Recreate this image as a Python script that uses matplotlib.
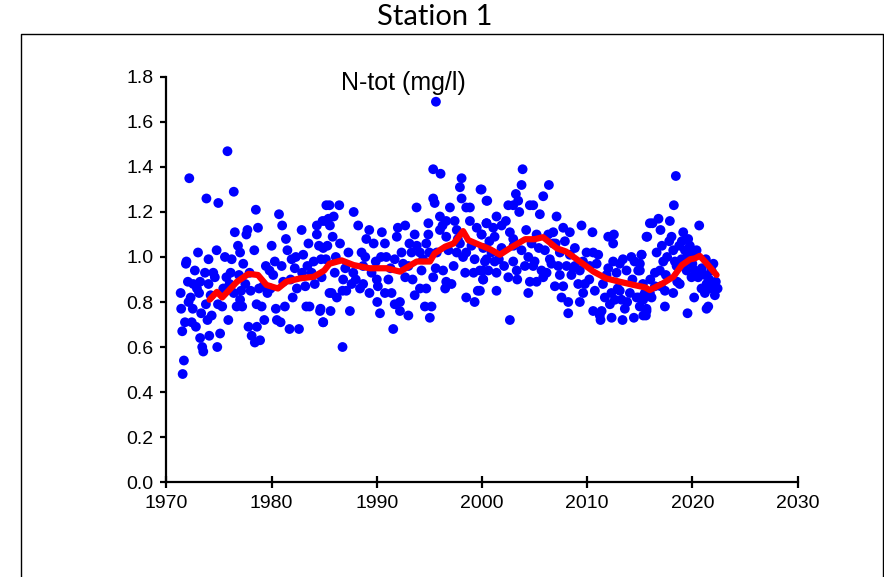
import numpy as np
import matplotlib
matplotlib.use("Agg")
import matplotlib.pyplot as plt
from matplotlib.lines import Line2D

# --- DATA ---
yr_1971_85 = [1971.54, 1971.66, 1971.35, 1971.40, 1971.50, 1971.76, 1971.85, 1971.90, 1972.17, 1972.04,
              1972.10, 1972.30, 1972.50, 1972.40, 1972.80, 1972.70, 1972.55, 1973.00, 1973.20, 1973.40,
              1973.50, 1973.10, 1973.20, 1973.66, 1973.80, 1974.00, 1973.75, 1974.00, 1974.07, 1974.30,
              1974.45, 1974.60, 1974.77, 1974.93, 1974.83, 1975.10, 1975.30, 1975.56, 1975.70, 1975.80,
              1975.88, 1976.00, 1976.20, 1976.40, 1976.50, 1976.40, 1976.67, 1976.80, 1977.00, 1977.10,
              1977.00, 1977.30, 1977.60, 1977.70, 1977.50, 1977.80, 1978.00, 1978.10, 1978.35, 1978.50,
              1978.40, 1978.60, 1978.70, 1978.57, 1978.90, 1979.05, 1979.20, 1979.45, 1979.60, 1979.80,
              1980.00, 1980.15, 1980.40, 1980.50, 1980.70, 1980.85, 1981.00, 1980.95, 1981.26, 1981.36,
              1981.50, 1981.70, 1981.90, 1982.00, 1982.20, 1982.40, 1982.60, 1982.85, 1983.00, 1983.20,
              1983.30, 1983.50, 1983.60, 1983.80, 1984.00, 1984.30, 1984.30, 1984.50, 1984.65, 1984.90,
              1985.10, 1985.20, 1985.40, 1985.50,
              1972.90, 1973.30, 1973.90, 1974.20, 1974.90, 1975.40, 1976.10, 1976.90, 1977.20, 1977.90,
              1978.80, 1979.30, 1979.90, 1980.30, 1981.10, 1981.80, 1982.30, 1982.90, 1983.40, 1984.10,
              1984.70, 1985.30]
n_1971_85 = [0.48, 0.54, 0.84, 0.77, 0.67, 0.71, 0.97, 0.98, 1.35, 0.89,
             0.80, 0.82, 0.77, 0.71, 0.69, 0.94, 0.88, 1.02, 0.64, 0.60,
             0.58, 0.84, 0.89, 0.93, 1.26, 0.99, 0.79, 0.88, 0.65, 0.74,
             0.93, 0.91, 1.03, 1.24, 0.60, 0.66, 0.78, 1.00, 0.91, 1.47,
             0.72, 0.88, 0.99, 1.29, 1.11, 0.84, 0.78, 1.05, 1.02, 0.85,
             0.81, 0.97, 1.10, 1.12, 0.88, 0.69, 0.85, 0.65, 1.03, 1.21,
             0.62, 0.69, 1.13, 0.79, 0.63, 0.78, 0.87, 0.96, 0.84, 0.94,
             1.05, 0.92, 0.77, 0.72, 1.19, 0.71, 1.14, 0.96, 0.78, 1.08,
             1.03, 0.68, 0.99, 0.82, 0.95, 0.86, 0.68, 1.12, 1.01, 0.87,
             0.78, 1.06, 0.78, 0.93, 0.98, 1.10, 1.14, 1.05, 0.77, 0.71,
             1.16, 1.23, 1.17, 0.84,
             0.86, 0.75, 0.72, 0.83, 0.79, 0.86, 0.93, 0.92, 0.78, 0.93,
             0.86, 0.72, 0.86, 0.98, 0.89, 0.90, 1.00, 0.93, 0.96, 0.88,
             0.99, 1.05]

yr_1985_2000 = [1995.62, 1995.36, 1996.06, 1998.06, 1997.90, 1999.86, 1995.36, 1995.50, 1998.06, 1998.85,
                1998.50, 2000.43, 1993.78, 1996.95, 1985.50, 1986.43, 1985.90, 1987.80, 1984.84, 1985.54,
                1988.23, 1989.28, 1990.48, 1992.00, 1992.70, 1993.60, 1994.90, 1994.90, 1996.00, 1996.25,
                1996.60, 1997.40, 1997.60, 1998.85, 1999.96, 2000.43, 1986.50, 1985.80, 1989.00, 1990.77,
                1991.90, 1993.10, 1993.80, 1994.70, 1996.00, 1996.60, 1984.90, 1987.30, 1988.55, 1989.70,
                1990.90, 1991.70, 1992.35, 1993.30, 1994.10, 1995.00, 1997.60, 1998.50, 1999.30, 2000.43,
                1985.16, 1986.00, 1986.80, 1987.76, 1988.70, 1989.50, 1990.00, 1991.10, 1992.70, 1994.25,
                1996.30, 1997.30, 1998.40, 1999.20, 2000.10, 1984.75, 1985.70, 1986.20, 1987.10, 1987.60,
                1988.40, 1989.30, 1990.10, 1990.77, 1991.40, 1993.60, 1994.10, 1994.70, 1996.50, 1996.60,
                1998.50, 1999.30, 1999.60, 2000.10, 1984.60, 1985.60, 1984.90, 1987.44, 1990.04, 1990.30,
                1991.70, 1992.20, 1993.00, 1992.20, 1994.57, 1995.20, 1995.04, 1991.56, 1986.74, 1986.74,
                1988.70, 1990.40, 1993.00, 1995.36, 1995.70, 1997.90,
                1986.10, 1987.00, 1988.00, 1988.90, 1989.90, 1991.30, 1992.50, 1993.40, 1994.40, 1995.60,
                1996.80, 1997.70, 1998.20, 1999.00, 1999.50, 1997.10]
n_1985_2000 = [1.69, 1.39, 1.37, 1.35, 1.31, 1.30, 1.26, 1.24, 1.26, 1.22,
               1.22, 1.25, 1.22, 1.22, 1.23, 1.23, 1.18, 1.20, 1.16, 1.14,
               1.14, 1.12, 1.11, 1.13, 1.14, 1.10, 1.15, 1.10, 1.18, 1.14,
               1.16, 1.16, 1.12, 1.16, 1.10, 1.15, 1.06, 1.09, 1.08, 1.06,
               1.09, 1.06, 1.05, 1.06, 1.12, 1.09, 1.04, 1.02, 1.02, 1.06,
               1.00, 0.99, 1.02, 1.02, 1.02, 1.02, 1.02, 1.02, 0.99, 0.99,
               0.99, 0.93, 0.90, 0.93, 0.96, 0.93, 0.90, 0.90, 0.91, 0.94,
               0.94, 0.96, 0.93, 0.93, 0.94, 0.91, 0.84, 0.82, 0.85, 0.88,
               0.86, 0.84, 0.87, 0.84, 0.84, 0.83, 0.86, 0.86, 0.86, 0.89,
               0.82, 0.80, 0.85, 0.90, 0.76, 0.76, 0.71, 0.76, 0.80, 0.75,
               0.79, 0.76, 0.74, 0.80, 0.78, 0.78, 0.73, 0.68, 0.60, 0.85,
               0.88, 1.00, 0.96, 0.91, 1.02, 1.06,
               1.00, 0.95, 0.90, 1.00, 0.98, 0.95, 0.97, 0.90, 0.99, 0.95,
               1.03, 1.08, 1.00, 1.05, 1.13, 0.88]

yr_2000_15 = [2003.86, 2003.76, 2006.36, 1999.96, 2003.22, 2005.82, 2000.50, 2002.50, 2003.44, 2002.97,
              2004.55, 2004.87, 2003.54, 2005.50, 2007.09, 2001.38, 2000.43, 2002.27, 2001.86, 2001.07,
              2002.65, 2009.46, 2010.50, 2012.00, 2012.54, 2012.47, 2015.64, 2015.96, 1999.96, 2001.20,
              2002.97, 2005.19, 2006.30, 2006.77, 2007.72, 2008.35, 2007.88, 2006.77, 2004.71, 2000.12,
              2000.90, 2001.86, 2003.76, 2005.98, 2007.40, 2008.35, 2008.83, 2009.94, 2010.57, 2011.05,
              2013.40, 2014.20, 2014.50, 2015.17, 2000.28, 2001.20, 2002.97, 2004.40, 2005.00, 2007.25,
              2008.04, 2008.83, 2010.90, 2012.47, 2013.10, 2014.85, 1999.80, 2000.60, 2002.10, 2003.30,
              2004.08, 2004.87, 2005.66, 2006.45, 2007.40, 2008.67, 2009.30, 2010.26, 2011.84, 2012.79,
              2013.74, 2000.12, 2001.38, 2002.50, 2003.35, 2004.55, 2005.19, 2005.82, 2006.14, 2006.93,
              2007.72, 2009.15, 2009.78, 2010.73, 2011.68, 2012.30, 2013.27, 2014.06, 2014.70, 2015.48,
              1999.80, 2001.38, 2004.40, 2007.56, 2008.20, 2009.30, 2009.62, 2010.57, 2011.37, 2012.16,
              2012.63, 2013.10, 2013.58, 2015.00, 2015.64, 2015.33, 2008.20, 2011.27, 2012.32, 2013.36,
              2014.44, 2002.65, 2011.20,
              2000.70, 2001.60, 2003.00, 2004.20, 2005.40, 2006.60, 2007.00, 2008.50, 2009.60, 2010.20,
              2011.50, 2012.00, 2012.90, 2013.80, 2014.30, 2014.90, 2015.30]
n_2000_15 = [1.39, 1.32, 1.32, 1.30, 1.28, 1.27, 1.25, 1.23, 1.25, 1.23,
             1.23, 1.23, 1.20, 1.19, 1.18, 1.18, 1.15, 1.16, 1.14, 1.13,
             1.11, 1.14, 1.11, 1.09, 1.10, 1.06, 1.09, 1.15, 1.10, 1.09,
             1.08, 1.10, 1.10, 1.11, 1.13, 1.11, 1.07, 1.06, 1.06, 1.04,
             1.02, 1.04, 1.03, 1.03, 1.02, 1.01, 1.04, 1.02, 1.02, 1.01,
             0.99, 1.00, 0.98, 1.01, 0.98, 0.98, 0.98, 1.00, 0.98, 0.96,
             0.96, 0.96, 0.97, 0.98, 0.97, 0.94, 0.94, 0.94, 0.96, 0.94,
             0.96, 0.96, 0.94, 0.99, 0.92, 0.95, 0.94, 0.96, 0.92, 0.93,
             0.94, 0.90, 0.93, 0.91, 0.90, 0.89, 0.89, 0.91, 0.93, 0.87,
             0.87, 0.88, 0.88, 0.85, 0.82, 0.84, 0.81, 0.84, 0.82, 0.84,
             0.85, 0.85, 0.84, 0.82, 0.80, 0.80, 0.84, 0.76, 0.76, 0.79,
             0.81, 0.85, 0.77, 0.78, 0.76, 0.74, 0.75, 0.72, 0.73, 0.72,
             0.73, 0.72, 0.74,
             1.07, 0.99, 1.05, 1.12, 1.04, 0.97, 1.06, 0.92, 0.98, 0.90,
             0.88, 0.95, 0.86, 0.80, 0.90, 0.82, 0.88]

yr_2015_22 = [2018.43, 2018.24, 2016.78, 2016.21, 2017.86, 2020.65, 2016.97, 2015.71, 2019.13, 2018.02,
              2017.80, 2019.60, 2018.18, 2018.75, 2019.29, 2019.76, 2015.17, 2019.92, 2017.23, 2018.34,
              2018.97, 2021.28, 2015.01, 2016.44, 2016.91, 2017.48, 2019.45, 2020.24, 2020.71, 2021.82,
              2015.01, 2018.56, 2019.92, 2020.55, 2021.35, 2022.23, 2020.87, 2021.66, 2015.96, 2016.44,
              2017.39, 2018.18, 2021.19, 2022.14, 2015.33, 2016.12, 2020.17, 2015.64, 2017.39, 2021.51,
              2015.58, 2019.54, 2021.35, 2021.98, 2019.13,
              2016.00, 2016.60, 2017.10, 2017.60, 2018.50, 2019.00, 2019.50, 2020.00, 2020.40, 2020.90,
              2021.20, 2021.60, 2022.00, 2022.40, 2017.00, 2018.80]
n_2015_22 = [1.36, 1.23, 1.17, 1.15, 1.16, 1.14, 1.12, 1.09, 1.11, 1.09,
             1.07, 1.08, 1.03, 1.05, 1.03, 1.05, 1.01, 1.02, 0.98, 0.98,
             0.99, 0.99, 0.97, 0.93, 0.94, 0.92, 0.94, 0.94, 0.93, 0.94,
             0.94, 0.89, 0.91, 0.91, 0.88, 0.89, 0.86, 0.86, 0.84, 0.87,
             0.85, 0.84, 0.84, 0.83, 0.81, 0.82, 0.82, 0.77, 0.78, 0.78,
             0.74, 0.75, 0.77, 0.88, 0.96,
             0.90, 1.02, 1.05, 1.00, 0.96, 1.07, 1.00, 0.97, 1.03, 0.95,
             0.92, 0.90, 0.97, 0.86, 0.87, 0.88]

# moving average line (red)
ma_year = [1974.1, 1974.8, 1975.3, 1976.7, 1977.8, 1978.7, 1979.5, 1980.6, 1981.4, 1982.7,
           1984.0, 1985.0, 1985.5, 1986.65, 1987.8, 1989.3, 1990.9, 1992.2, 1993.8, 1995.05,
           1995.5, 1996.5, 1997.3, 1998.2, 1998.7, 1999.8, 2000.75, 2001.7, 2002.65, 2004.1,
           2005.0, 2005.8, 2006.45, 2007.1, 2008.0, 2009.3, 2010.6, 2011.8, 2013.1, 2014.4,
           2015.5, 2015.95, 2017.2, 2018.2, 2019.0, 2019.8, 2020.25, 2020.7, 2021.35, 2022.3]
ma_ntot = [0.81, 0.845, 0.82, 0.89, 0.925, 0.92, 0.876, 0.86, 0.89, 0.905,
           0.912, 0.94, 0.97, 0.985, 0.964, 0.95, 0.95, 0.935, 0.98, 0.98,
           1.016, 1.046, 1.06, 1.115, 1.075, 1.053, 1.035, 1.01, 1.039, 1.079,
           1.079, 1.088, 1.064, 1.039, 1.024, 0.98, 0.935, 0.905, 0.89, 0.876,
           0.865, 0.853, 0.883, 0.912, 0.964, 0.99, 0.994, 1.005, 0.972, 0.92]

x_ticks = [1970, 1980, 1990, 2000, 2010, 2020, 2030]
y_ticks = [0.0, 0.2, 0.4, 0.6, 0.8, 1.0, 1.2, 1.4, 1.6, 1.8]

years = yr_1971_85 + yr_1985_2000 + yr_2000_15 + yr_2015_22
ntot = n_1971_85 + n_1985_2000 + n_2000_15 + n_2015_22

# --- PLOT ---
plt.rcParams['font.family'] = ['Liberation Sans', 'DejaVu Sans']

fig = plt.figure(figsize=(8.84, 5.77), dpi=100)
ax = fig.add_axes([0.1883, 0.1646, 0.7139, 0.702])

ax.scatter(years, ntot, s=50, color='#0000ff', edgecolors='none', zorder=2)
ax.plot(ma_year, ma_ntot, color='#ff0000', lw=4.5, solid_joinstyle='round', solid_capstyle='round', zorder=3)

ax.set_xlim(1970, 2030)
ax.set_ylim(0, 1.8)
ax.set_xticks(x_ticks)
ax.set_yticks(y_ticks)
ax.set_yticklabels([f"{v:.1f}" for v in y_ticks])
ax.spines['top'].set_visible(False)
ax.spines['right'].set_visible(False)
for s in ['left', 'bottom']:
    ax.spines[s].set_linewidth(1.6)
ax.tick_params(axis='x', direction='inout', length=8, width=1.6, pad=5, labelsize=14)
ax.tick_params(axis='y', direction='out', length=4.5, width=1.6, pad=5, labelsize=14)

ax.text(0.376, 0.985, "N-tot (mg/l)", transform=ax.transAxes, ha='center', va='center', fontsize=18)

fig.text(0.492, 0.970, "Station 1", ha='center', va='center', fontsize=21, family=['Lato', 'DejaVu Sans'])

# outer frame (bottom edge runs off the image)
fx0, fx1, fy = 21 / 884, 883 / 884, 1 - 34 / 577
fig.add_artist(Line2D([fx0, fx0, fx1, fx1], [0, fy, fy, 0], color='black', lw=1.0, transform=fig.transFigure))

fig.savefig("out.png", dpi=100)
